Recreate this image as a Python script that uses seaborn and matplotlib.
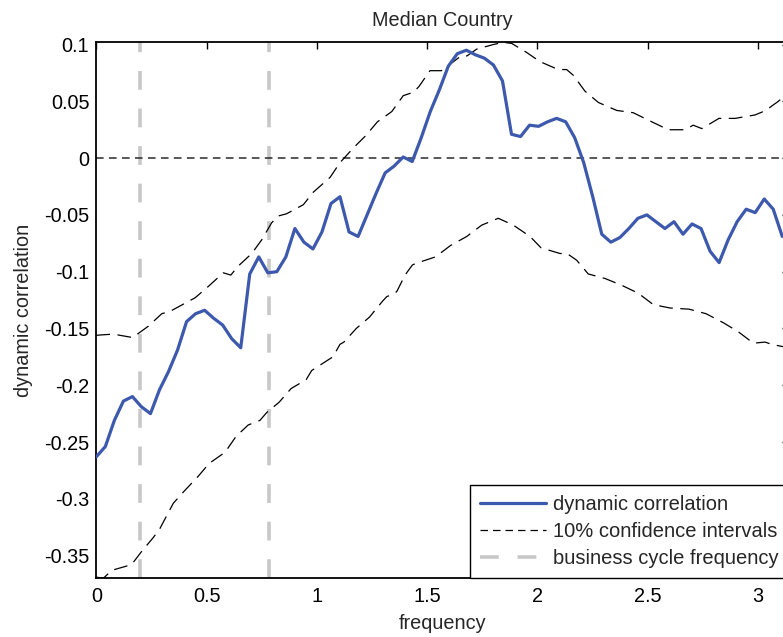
import numpy as np
import matplotlib
matplotlib.use("Agg")
import matplotlib.pyplot as plt
import seaborn as sns
from matplotlib.lines import Line2D

# rejilla de frecuencias (77 puntos, 0 .. ~pi)
freq = np.linspace(0, 3.111, 77)
dyn_corr = [-0.263, -0.254, -0.231, -0.214, -0.210, -0.219, -0.225, -0.204, -0.188, -0.169,
            -0.144, -0.137, -0.134, -0.141, -0.147, -0.159, -0.167, -0.102, -0.087, -0.101,
            -0.100, -0.087, -0.062, -0.074, -0.080, -0.065, -0.040, -0.034, -0.065, -0.069,
            -0.050, -0.031, -0.013, -0.007, 0.001, -0.003, 0.018, 0.041, 0.060, 0.081,
            0.092, 0.095, 0.091, 0.088, 0.082, 0.068, 0.021, 0.019, 0.029, 0.028,
            0.032, 0.035, 0.032, 0.018, -0.004, -0.034, -0.067, -0.074, -0.070, -0.062,
            -0.053, -0.050, -0.056, -0.062, -0.056, -0.067, -0.058, -0.062, -0.082, -0.092,
            -0.072, -0.056, -0.045, -0.048, -0.036, -0.045, -0.069]

# intervalos de confianza al 10%
ci_up_x = [0.0, 0.077, 0.165, 0.236, 0.297, 0.334, 0.372, 0.448, 0.508, 0.576, 0.610, 0.644,
           0.705, 0.750, 0.795, 0.825, 0.863, 0.939, 0.984, 1.060, 1.105, 1.166, 1.223, 1.275,
           1.340, 1.392, 1.438, 1.463, 1.513, 1.566, 1.600, 1.654, 1.681, 1.725, 1.800, 1.846,
           1.884, 1.952, 2.012, 2.095, 2.133, 2.163, 2.216, 2.277, 2.360, 2.435, 2.519, 2.594,
           2.670, 2.707, 2.746, 2.824, 2.897, 2.987, 3.037, 3.064, 3.093, 3.141]
ci_up_y = [-0.156, -0.155, -0.158, -0.148, -0.137, -0.135, -0.131, -0.123, -0.113, -0.101, -0.103, -0.095,
           -0.084, -0.072, -0.057, -0.051, -0.049, -0.041, -0.030, -0.017, -0.004, 0.009, 0.020, 0.032,
           0.041, 0.055, 0.058, 0.063, 0.077, 0.077, 0.082, 0.090, 0.090, 0.096, 0.100, 0.102,
           0.101, 0.093, 0.085, 0.078, 0.078, 0.073, 0.059, 0.049, 0.042, 0.040, 0.032, 0.025,
           0.025, 0.029, 0.026, 0.035, 0.035, 0.038, 0.042, 0.046, 0.050, 0.058]
ci_lo_x = [0.0, 0.032, 0.070, 0.160, 0.203, 0.259, 0.289, 0.349, 0.395, 0.463, 0.511, 0.584,
           0.634, 0.689, 0.742, 0.773, 0.829, 0.883, 0.952, 0.977, 1.001, 1.073, 1.105, 1.123,
           1.179, 1.239, 1.298, 1.317, 1.355, 1.364, 1.400, 1.434, 1.460, 1.538, 1.606, 1.680,
           1.748, 1.823, 1.891, 1.967, 2.017, 2.103, 2.135, 2.179, 2.231, 2.307, 2.383, 2.458,
           2.526, 2.602, 2.688, 2.765, 2.844, 2.912, 2.980, 3.033, 3.063, 3.114]
ci_lo_y = [-0.369, -0.370, -0.363, -0.358, -0.347, -0.334, -0.326, -0.304, -0.294, -0.280, -0.269, -0.259,
           -0.245, -0.235, -0.231, -0.224, -0.215, -0.203, -0.195, -0.187, -0.184, -0.175, -0.164, -0.162,
           -0.150, -0.140, -0.126, -0.122, -0.119, -0.117, -0.103, -0.094, -0.092, -0.087, -0.077, -0.069,
           -0.059, -0.053, -0.059, -0.069, -0.079, -0.084, -0.084, -0.090, -0.102, -0.106, -0.112, -0.119,
           -0.129, -0.132, -0.133, -0.137, -0.145, -0.153, -0.163, -0.162, -0.164, -0.166]

bc_freq = [0.196, 0.785]  # banda del ciclo economico
x_ticks = [0, 0.5, 1, 1.5, 2, 2.5, 3]
y_ticks = [-0.35, -0.3, -0.25, -0.2, -0.15, -0.1, -0.05, 0, 0.05, 0.1]
y_ticklabels = ["-0.35", "-0.3", "-0.25", "-0.2", "-0.15", "-0.1", "-0.05", "0", "0.05", "0.1"]
x_ticklabels = ["0", "0.5", "1", "1.5", "2", "2.5", "3"]
legend_labels = ["dynamic correlation", "10% confidence intervals", "business cycle frequency"]

sns.set_theme(style="white")
plt.rcParams["font.family"] = ["Liberation Sans", "DejaVu Sans"]
plt.rcParams["axes.unicode_minus"] = False

BLUE = "#3c59ad"
GRAY = "#c8c8c8"
FS = 14.3

fig = plt.figure(figsize=(7.83, 6.37), dpi=100)
ax = fig.add_axes([0.123, 0.0922, 0.8847, 0.8414])  # el eje derecho queda fuera de la imagen

for xv in bc_freq:
    ax.axvline(xv, color=GRAY, lw=2.6, linestyle=(0, (5.2, 5.2)), zorder=1)
ax.axhline(0, color="#2a2a2a", lw=1.1, linestyle=(0, (5, 3.5)), zorder=2)

sns.lineplot(x=ci_up_x, y=ci_up_y, ax=ax, color="black", lw=0.9, linestyle=(0, (11, 6)), zorder=3)
sns.lineplot(x=ci_lo_x, y=ci_lo_y, ax=ax, color="black", lw=0.9, linestyle=(0, (11, 6)), zorder=3)
sns.lineplot(x=freq, y=dyn_corr, ax=ax, color=BLUE, lw=2.3, zorder=4)

ax.set_xlim(0, np.pi)
ax.set_ylim(-0.37, 0.102)
ax.set_xticks(x_ticks)
ax.set_xticklabels(x_ticklabels)
ax.set_yticks(y_ticks)
ax.set_yticklabels(y_ticklabels)
ax.tick_params(direction="in", length=5, width=1, top=True, right=True,
               labelsize=FS, colors="black")
ax.tick_params(axis="x", pad=6)
ax.tick_params(axis="y", pad=5)
for s in ax.spines.values():
    s.set_visible(True)
    s.set_color("black")
    s.set_linewidth(1.3)

ax.set_title("Median Country", fontsize=FS, pad=12)
ax.set_xlabel("frequency", fontsize=FS, labelpad=6)
ax.set_ylabel("dynamic correlation", fontsize=FS, labelpad=8)

handles = [Line2D([], [], color=BLUE, lw=2.3),
           Line2D([], [], color="black", lw=0.9, linestyle=(0, (6, 4))),
           Line2D([], [], color=GRAY, lw=2.6, linestyle=(0, (5.2, 5.2)))]
leg = ax.legend(handles, legend_labels, loc="lower right", bbox_to_anchor=(1, 0),
                borderaxespad=0, frameon=True, fancybox=False, framealpha=1,
                edgecolor="black", fontsize=14.5, handlelength=3.3, handletextpad=0.35,
                labelspacing=0.4, borderpad=0.5)
leg.get_frame().set_linewidth(1.0)

fig.savefig("out.png", dpi=100)
